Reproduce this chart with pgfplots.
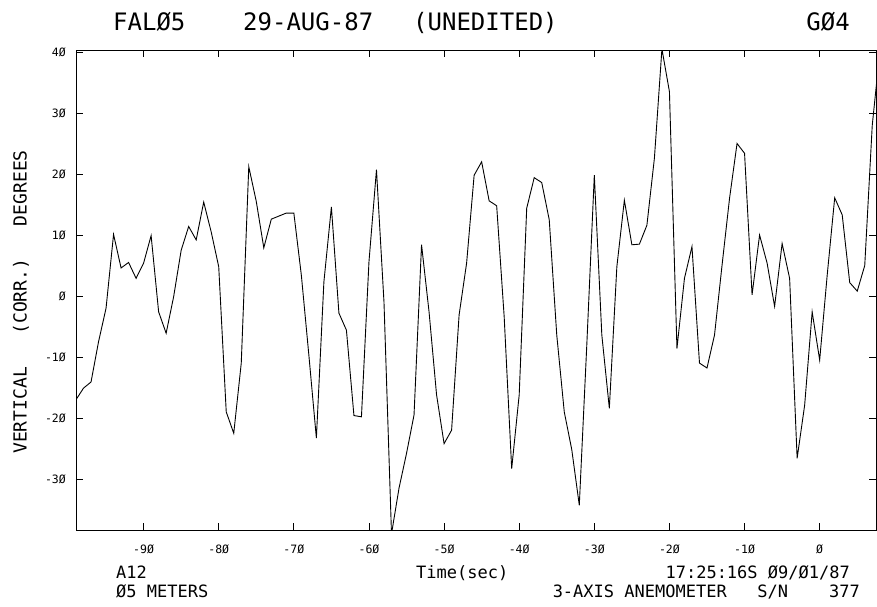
\documentclass[border=0pt]{standalone}
\usepackage{fontspec}
\usepackage{pgfplots}
\pgfplotsset{compat=1.18}
\newfontfamily\pf{DejaVu Sans Mono}
\pgfplotstableread{
t v
-99 -17.0
-98 -15.1
-97 -14.1
-96 -7.5
-95 -2.0
-94 10.1
-93 4.6
-92 5.5
-91 2.9
-90 5.4
-89 9.9
-88 -2.6
-87 -6.1
-86 -0.1
-85 7.5
-84 11.4
-83 9.2
-82 15.4
-81 10.5
-80 4.8
-79 -19.0
-78 -22.5
-77 -11.0
-76 21.2
-75 15.5
-74 7.9
-73 12.6
-72 13.1
-71 13.6
-70 13.6
-69 3.4
-68 -9.7
-67 -23.3
-66 2.3
-65 14.6
-64 -2.8
-63 -5.6
-62 -19.6
-61 -19.8
-60 5.6
-59 20.7
-58 -1.0
-57 -39.0
-56 -31.5
-55 -25.8
-54 -19.5
-53 8.4
-52 -2.6
-51 -16.2
-50 -24.2
-49 -22.0
-48 -3.1
-47 5.4
-46 19.8
-45 22.0
-44 15.6
-43 14.8
-42 -3.4
-41 -28.3
-40 -16.2
-39 14.4
-38 19.4
-37 18.6
-36 12.5
-35 -6.4
-34 -19.0
-33 -25.2
-32 -34.3
-31 -8.0
-30 19.8
-29 -6.4
-28 -18.4
-27 4.8
-26 15.7
-25 8.4
-24 8.5
-23 11.6
-22 22.6
-21 40.5
-20 33.5
-19 -8.6
-18 2.9
-17 8.1
-16 -11.0
-15 -11.8
-14 -6.4
-13 5.0
-12 16.0
-11 25.0
-10 23.4
-9 0.2
-8 10.0
-7 5.4
-6 -1.7
-5 8.6
-4 2.9
-3 -26.6
-2 -17.9
-1 -2.6
0 -10.5
1 3.4
2 16.1
3 13.3
4 2.2
5 0.8
6 5.0
7 28.0
8 40.0
}\datatable
\begin{document}
\begin{tikzpicture}[x=1pt,y=1pt]
\useasboundingbox (-76,-76) rectangle (801,530);
\begin{axis}[at={(0,0)}, anchor=south west, scale only axis,
  width=800pt, height=480pt,
  xmin=-99, xmax=7.5, ymin=-38.36, ymax=40.33,
  xtick={-90,-80,...,0},
  xticklabels={-9Ø,-8Ø,-7Ø,-6Ø,-5Ø,-4Ø,-3Ø,-2Ø,-1Ø,Ø},
  ytick={-30,-20,...,40},
  yticklabels={-3Ø,-2Ø,-1Ø,Ø,1Ø,2Ø,3Ø,4Ø},
  tick align=inside, major tick length=7pt,
  tick style={black, line width=0.7pt},
  axis line style={black, line width=0.8pt},
  ticklabel style={font=\pf\fontsize{11.5}{12}\selectfont, inner sep=0pt},
  xticklabel style={anchor=north, yshift=-15pt},
  yticklabel style={anchor=east, xshift=-10pt},
  /pgf/number format/assume math mode=true,
]
\addplot[black, line width=0.9pt, mark=none] table[x=t, y=v] {\datatable};
\end{axis}
\begin{scope}[every node/.style={inner sep=0pt}]
\node[anchor=base west, font=\pf\fontsize{24}{24}\selectfont] at (37,499) {FALØ5};
\node[anchor=base west, font=\pf\fontsize{24}{24}\selectfont] at (167,499) {29-AUG-87};
\node[anchor=base west, font=\pf\fontsize{24}{24}\selectfont] at (337,499) {(UNEDITED)};
\node[anchor=base east, font=\pf\fontsize{24}{24}\selectfont] at (774,499) {GØ4};
\node[rotate=90, anchor=center, font=\pf\fontsize{18}{18}\selectfont] at (-55,228) {VERTICAL\ \ \ (CORR.)\ \ \ DEGREES};
\node[anchor=base west, font=\pf\fontsize{17}{17}\selectfont] at (40,-48) {A12};
\node[anchor=base west, font=\pf\fontsize{17}{17}\selectfont] at (40,-67) {Ø5 METERS};
\node[anchor=base west, font=\pf\fontsize{17}{17}\selectfont] at (340,-48) {Time(sec)};
\node[anchor=base east, font=\pf\fontsize{17}{17}\selectfont] at (774,-48) {17:25:16S Ø9/Ø1/87};
\node[anchor=base east, font=\pf\fontsize{17}{17}\selectfont] at (784,-67) {3-AXIS ANEMOMETER\ \ \ S/N\ \ \ \ 377};
\end{scope}
\end{tikzpicture}
\end{document}
